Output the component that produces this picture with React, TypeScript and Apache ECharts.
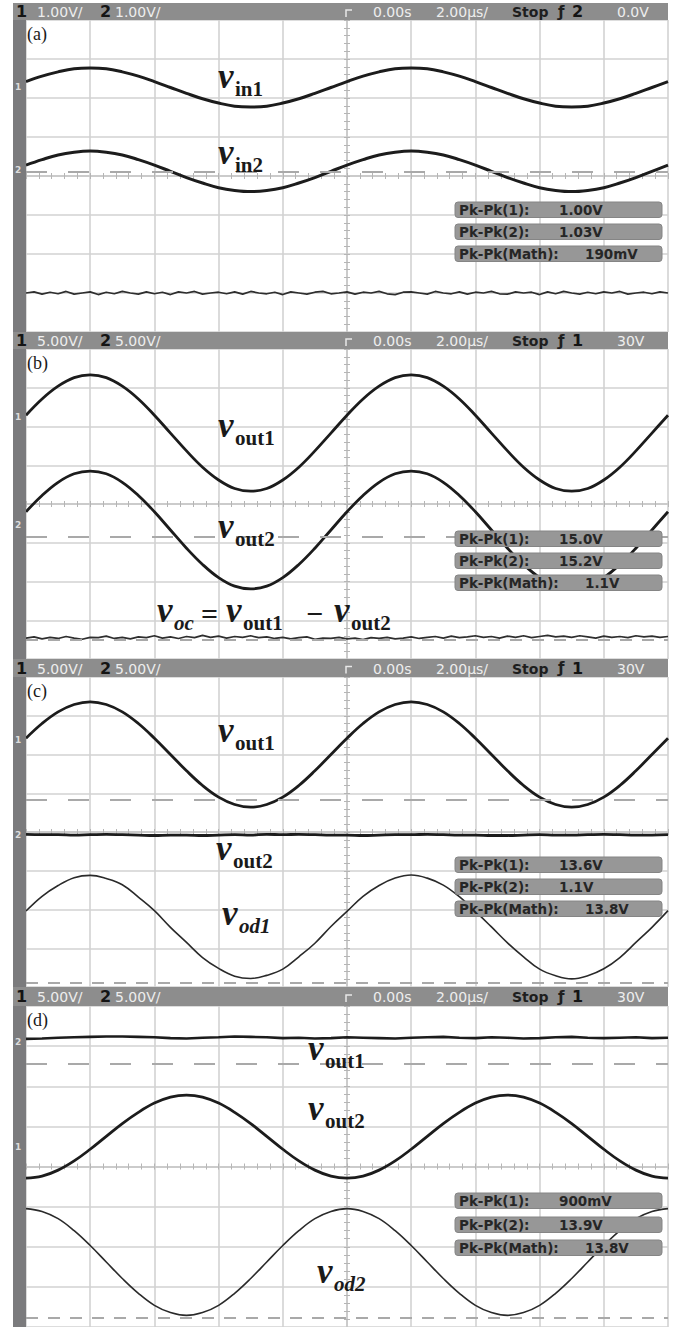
import React, { useEffect, useRef } from "react";
import * as echarts from "echarts";

// Samples are read every 0.25 division (noise traces every 0.125 division), 10 divisions across.
const STEP = 0.25;
const NSTEP = 0.125;

// ---- panel (a): values in divisions from the screen centre ----
const vin1 = [2.42, 2.56, 2.67, 2.75, 2.77, 2.75, 2.67, 2.56, 2.42, 2.27, 2.12, 1.98, 1.87, 1.79, 1.77, 1.79, 1.87, 1.98, 2.12, 2.27, 2.42, 2.56, 2.67, 2.75, 2.77, 2.75, 2.67, 2.56, 2.42, 2.27, 2.12, 1.98, 1.87, 1.79, 1.77, 1.79, 1.87, 1.98, 2.12, 2.27, 2.42];
const vin2 = [0.28, 0.42, 0.54, 0.61, 0.64, 0.61, 0.54, 0.42, 0.28, 0.12, -0.04, -0.18, -0.3, -0.37, -0.4, -0.37, -0.3, -0.18, -0.04, 0.12, 0.28, 0.42, 0.54, 0.61, 0.64, 0.61, 0.54, 0.42, 0.28, 0.12, -0.04, -0.18, -0.3, -0.37, -0.4, -0.37, -0.3, -0.18, -0.04, 0.12, 0.28];
const mathA = [-3.0, -2.97, -3.03, -2.98, -3.02, -2.96, -3.03, -3.0, -2.97, -3.04, -2.98, -3.02, -2.96, -3.0, -3.03, -2.97, -3.02, -2.98, -3.04, -2.97, -3.0, -2.96, -3.03, -3.0, -2.98, -3.02, -2.97, -3.03, -2.96, -3.0, -3.02, -2.98, -3.04, -2.97, -3.0, -3.03, -2.98, -2.96, -3.02, -3.0, -2.97, -3.03, -2.98, -3.0, -2.96, -3.02, -3.04, -2.98, -2.97, -3.0, -3.03, -2.96, -3.0, -3.02, -2.97, -3.03, -2.98, -3.0, -2.96, -3.02, -3.03, -2.97, -3.0, -2.98, -3.04, -2.97, -3.02, -2.96, -3.0, -3.03, -2.98, -3.02, -2.97, -3.0, -2.96, -3.03, -3.0, -2.98, -3.02, -2.97, -3.0];
const refA = [0.12];

// ---- panel (b) ----
const vout1B = [2.29, 2.71, 3.04, 3.26, 3.33, 3.26, 3.04, 2.71, 2.29, 1.83, 1.37, 0.95, 0.62, 0.4, 0.33, 0.4, 0.62, 0.95, 1.37, 1.83, 2.29, 2.71, 3.04, 3.26, 3.33, 3.26, 3.04, 2.71, 2.29, 1.83, 1.37, 0.95, 0.62, 0.4, 0.33, 0.4, 0.62, 0.95, 1.37, 1.83, 2.29];
const vout2B = [-0.2, 0.22, 0.56, 0.78, 0.85, 0.78, 0.56, 0.22, -0.2, -0.67, -1.14, -1.56, -1.9, -2.12, -2.19, -2.12, -1.9, -1.56, -1.14, -0.67, -0.2, 0.22, 0.56, 0.78, 0.85, 0.78, 0.56, 0.22, -0.2, -0.67, -1.14, -1.56, -1.9, -2.12, -2.19, -2.12, -1.9, -1.56, -1.14, -0.67, -0.2];
const mathB = [-3.46, -3.43, -3.48, -3.44, -3.47, -3.42, -3.46, -3.49, -3.44, -3.45, -3.41, -3.47, -3.44, -3.48, -3.43, -3.45, -3.4, -3.46, -3.43, -3.47, -3.42, -3.45, -3.39, -3.44, -3.41, -3.46, -3.42, -3.44, -3.4, -3.45, -3.43, -3.47, -3.44, -3.48, -3.45, -3.43, -3.49, -3.46, -3.47, -3.44, -3.48, -3.46, -3.5, -3.45, -3.47, -3.44, -3.48, -3.46, -3.43, -3.47, -3.44, -3.42, -3.46, -3.41, -3.45, -3.43, -3.4, -3.44, -3.42, -3.46, -3.41, -3.44, -3.4, -3.45, -3.42, -3.39, -3.43, -3.41, -3.44, -3.4, -3.43, -3.46, -3.41, -3.44, -3.42, -3.45, -3.4, -3.43, -3.41, -3.44, -3.42];
const refB = [-0.85, -3.51];

// ---- panel (c) ----
const vout1C = [2.42, 2.8, 3.1, 3.29, 3.36, 3.29, 3.1, 2.8, 2.42, 2.0, 1.58, 1.2, 0.9, 0.71, 0.64, 0.71, 0.9, 1.2, 1.58, 2.0, 2.42, 2.8, 3.1, 3.29, 3.36, 3.29, 3.1, 2.8, 2.42, 2.0, 1.58, 1.2, 0.9, 0.71, 0.64, 0.71, 0.9, 1.2, 1.58, 2.0, 2.42];
const vout2C = [-0.06, -0.07, -0.07, -0.08, -0.07, -0.06, -0.07, -0.08, -0.09, -0.08, -0.08, -0.09, -0.08, -0.07, -0.08, -0.06, -0.07, -0.06, -0.07, -0.08, -0.08, -0.09, -0.08, -0.07, -0.07, -0.06, -0.07, -0.08, -0.08, -0.09, -0.09, -0.08, -0.07, -0.08, -0.08, -0.07, -0.06, -0.07, -0.08, -0.08, -0.07];
const vod1C = [-2.04, -1.66, -1.38, -1.18, -1.12, -1.2, -1.36, -1.68, -2.03, -2.46, -2.85, -3.24, -3.52, -3.72, -3.78, -3.7, -3.54, -3.22, -2.87, -2.44, -2.05, -1.66, -1.38, -1.19, -1.11, -1.19, -1.37, -1.67, -2.05, -2.45, -2.86, -3.22, -3.54, -3.71, -3.79, -3.71, -3.53, -3.24, -2.85, -2.46, -2.03];
const refC = [0.83, -3.9];

// ---- panel (d) ----
const vout1D = [3.18, 3.19, 3.21, 3.22, 3.23, 3.24, 3.24, 3.23, 3.22, 3.2, 3.19, 3.21, 3.22, 3.24, 3.23, 3.22, 3.2, 3.21, 3.19, 3.2, 3.22, 3.21, 3.2, 3.19, 3.21, 3.22, 3.23, 3.21, 3.2, 3.22, 3.21, 3.19, 3.2, 3.22, 3.23, 3.21, 3.2, 3.21, 3.22, 3.2, 3.21];
const vout2D = [-0.29, -0.24, -0.09, 0.14, 0.43, 0.75, 1.07, 1.35, 1.58, 1.73, 1.78, 1.73, 1.58, 1.35, 1.07, 0.75, 0.43, 0.14, -0.09, -0.24, -0.29, -0.24, -0.09, 0.14, 0.43, 0.75, 1.07, 1.35, 1.58, 1.73, 1.78, 1.73, 1.58, 1.35, 1.07, 0.75, 0.43, 0.14, -0.09, -0.24, -0.29];
const vod2D = [-1.05, -1.12, -1.3, -1.6, -1.97, -2.38, -2.79, -3.16, -3.46, -3.64, -3.71, -3.64, -3.46, -3.16, -2.79, -2.38, -1.97, -1.6, -1.3, -1.12, -1.05, -1.12, -1.3, -1.6, -1.97, -2.38, -2.79, -3.16, -3.46, -3.64, -3.71, -3.64, -3.46, -3.16, -2.79, -2.38, -1.97, -1.6, -1.3, -1.12, -1.05];
const refD = [2.56, -3.78];

// ---- texts ----
const TAGS = ["(a)", "(b)", "(c)", "(d)"];
const VDIV = ["1.00V/", "5.00V/", "5.00V/", "5.00V/"];
const TRIG_SRC = ["2", "1", "1", "1"];
const TRIG_LVL = ["0.0V", "30V", "30V", "30V"];
const TIME_POS = "0.00s";
const TIME_DIV = "2.00µs/";
const PK_LABELS = ["Pk-Pk(1):", "Pk-Pk(2):", "Pk-Pk(Math):"];
const PK_A = ["1.00V", "1.03V", "190mV"];
const PK_B = ["15.0V", "15.2V", "1.1V"];
const PK_C = ["13.6V", "1.1V", "13.8V"];
const PK_D = ["900mV", "13.9V", "13.8V"];

// ---- layout (pixels) ----
const PANELS = [
  { hdr: 3, hdrH: 17, top: 20, h: 312, boxes: [202, 224, 246], pk: PK_A },
  { hdr: 332, hdrH: 17, top: 349, h: 310, boxes: [531, 553, 575], pk: PK_B },
  { hdr: 659, hdrH: 18, top: 677, h: 310, boxes: [857, 879, 901], pk: PK_C },
  { hdr: 987, hdrH: 19, top: 1006, h: 328, boxes: [1193, 1217, 1240], pk: PK_D },
];
const LEFT = 26;
const RIGHT = 668;

const SERIF = '"Liberation Serif", "Times New Roman", serif';
const SANS = '"DejaVu Sans", "Liberation Sans", sans-serif';

const pts = (vals: number[], step: number) => vals.map((v, i) => [-5 + i * step, v]);

function txt(x: number, base: number, text: string, size: number, o: any = {}) {
  return {
    type: "text",
    z: 120,
    x,
    y: base - 0.34 * size,
    silent: true,
    style: {
      text,
      fontSize: size,
      fontFamily: o.family ?? SERIF,
      fontWeight: o.weight ?? "bold",
      fontStyle: o.italic ? "italic" : "normal",
      fill: o.fill ?? "#1a1a1a",
      align: o.align ?? "left",
      verticalAlign: "middle",
    },
  };
}

function sym(x: number, base: number, sub: string, subItalic = false) {
  return [txt(x, base, "v", 35, { italic: true }), txt(x + 17, base + 8, sub, 21, { italic: subItalic })];
}

function buildGraphics() {
  const g: any[] = [];
  g.push({ type: "rect", z: 100, silent: true, shape: { x: 13, y: 3, width: 13, height: 1330 }, style: { fill: "#7b7b7d" } });
  PANELS.forEach((p, i) => {
    const cy = p.hdr + p.hdrH / 2 + 0.5;
    g.push({ type: "rect", z: 100, silent: true, shape: { x: 13, y: p.hdr, width: RIGHT - 13, height: p.hdrH }, style: { fill: "#8d8d8d" } });
    const hb = cy + 5;
    g.push(txt(16, hb, "1", 16, { family: SANS, fill: "#141414" }));
    g.push(txt(37, hb, VDIV[i], 14, { family: SANS, weight: "normal", fill: "#eeeeee" }));
    g.push(txt(100, hb, "2", 16, { family: SANS, fill: "#141414" }));
    g.push(txt(115, hb, VDIV[i], 14, { family: SANS, weight: "normal", fill: "#eeeeee" }));
    g.push({ type: "polyline", z: 110, silent: true, shape: { points: [[346, cy + 5], [346, cy - 2], [352, cy - 2]] }, style: { stroke: "#e8e8e8", lineWidth: 1.5, fill: null } });
    g.push(txt(373, hb, TIME_POS, 14, { family: SANS, weight: "normal", fill: "#eeeeee" }));
    g.push(txt(436, hb, TIME_DIV, 14, { family: SANS, weight: "normal", fill: "#eeeeee" }));
    g.push(txt(512, hb, "Stop", 14, { family: SANS, fill: "#1e1e1e" }));
    g.push(txt(558, hb, "ƒ", 15, { family: SANS, fill: "#1e1e1e" }));
    g.push(txt(572, hb, TRIG_SRC[i], 16, { family: SANS, fill: "#141414" }));
    g.push(txt(617, hb, TRIG_LVL[i], 14, { family: SANS, weight: "normal", fill: "#eeeeee" }));
    // panel tag
    g.push(txt(27, p.top + 20, TAGS[i], 18, { weight: "normal", fill: "#1a1a1a" }));
    // measurement boxes
    p.boxes.forEach((by, k) => {
      g.push({ type: "rect", z: 100, silent: true, shape: { x: 455, y: by, width: 207, height: 15.5, r: 3 }, style: { fill: "#979797", stroke: "#858585", lineWidth: 1 } });
      g.push(txt(459, by + 12.5, PK_LABELS[k], 13.5, { family: SANS, weight: "bold", fill: "#262626" }));
      g.push(txt(k < 2 ? 559 : 585, by + 12.5, p.pk[k], 13.5, { family: SANS, weight: "bold", fill: "#262626" }));
    });
  });
  // channel ground markers on the left bar
  const marks: [number, string][] = [[87, "1"], [170, "2"], [417, "1"], [525, "2"], [740, "1"], [835, "2"], [1042, "2"], [1147, "1"]];
  marks.forEach(([y, t]) => g.push(txt(15, y + 3, t, 9, { family: SANS, fill: "#dcdcdc" })));
  // trace names
  g.push(...sym(218, 88, "in1"));
  g.push(...sym(218, 164, "in2"));
  g.push(...sym(218, 437, "out1"));
  g.push(...sym(218, 538, "out2"));
  g.push(txt(157, 622, "v", 35, { italic: true }));
  g.push(txt(174, 630, "oc", 21, { italic: true }));
  g.push(txt(201, 624, "=", 30, {}));
  g.push(...sym(226, 622, "out1"));
  g.push(txt(306, 624, "−", 30, {}));
  g.push(...sym(334, 622, "out2"));
  g.push(...sym(218, 742, "out1"));
  g.push(...sym(216, 860, "out2"));
  g.push(...sym(222, 925, "od1", true));
  g.push(...sym(308, 1060, "out1"));
  g.push(...sym(308, 1120, "out2"));
  g.push(...sym(317, 1283, "od2", true));
  return g;
}

function buildOption() {
  const tick = { color: "#b5b5b5", width: 1 };
  const xAxis = PANELS.flatMap((_, gi) => [
    {
      gridIndex: gi, type: "value", min: -5, max: 5, interval: 1, position: "bottom",
      axisLine: { show: true, onZero: true, lineStyle: { color: "#cacaca", width: 1.5 } },
      axisTick: { show: true, length: 3, lineStyle: tick },
      minorTick: { show: true, splitNumber: 5, length: 3, lineStyle: tick },
      axisLabel: { show: false },
      splitLine: { show: true, lineStyle: { color: "#d2d2d2", width: 1.6 } },
    },
    {
      gridIndex: gi, type: "value", min: -5, max: 5, interval: 1, position: "top",
      axisLine: { show: true, onZero: true, lineStyle: { color: "#cacaca", width: 1.5 } },
      axisTick: { show: true, length: 3, lineStyle: tick },
      minorTick: { show: true, splitNumber: 5, length: 3, lineStyle: tick },
      axisLabel: { show: false },
      splitLine: { show: false },
    },
  ]);
  const yAxis = PANELS.flatMap((_, gi) => [
    {
      gridIndex: gi, type: "value", min: -4, max: 4, interval: 1, position: "left",
      axisLine: { show: true, onZero: true, lineStyle: { color: "#cacaca", width: 1.5 } },
      axisTick: { show: true, length: 3, lineStyle: tick },
      minorTick: { show: true, splitNumber: 5, length: 3, lineStyle: tick },
      axisLabel: { show: false },
      splitLine: { show: true, lineStyle: { color: "#d2d2d2", width: 1.6 } },
    },
    {
      gridIndex: gi, type: "value", min: -4, max: 4, interval: 1, position: "right",
      axisLine: { show: true, onZero: true, lineStyle: { color: "#cacaca", width: 1.5 } },
      axisTick: { show: true, length: 3, lineStyle: tick },
      minorTick: { show: true, splitNumber: 5, length: 3, lineStyle: tick },
      axisLabel: { show: false },
      splitLine: { show: false },
    },
  ]);
  const grid = PANELS.map((p) => ({ left: LEFT, top: p.top, width: RIGHT - LEFT, height: p.h }));

  const LONG = [21, 21];
  const SHORT = [12, 10];
  const refSeries = (gi: number, lines: { v: number; dash: number[] }[]) => ({
    type: "line", xAxisIndex: gi * 2, yAxisIndex: gi * 2, data: [], silent: true,
    markLine: {
      silent: true, symbol: ["none", "none"], label: { show: false }, animation: false,
      data: lines.map((l) => ({ yAxis: l.v, lineStyle: { type: l.dash, color: "#a9a9a9", width: 2 } })),
    },
  });
  const trace = (gi: number, vals: number[], step: number, width: number, color = "#1c1c1c", smooth: number | boolean = 0.4) => ({
    type: "line", xAxisIndex: gi * 2, yAxisIndex: gi * 2, data: pts(vals, step), showSymbol: false, smooth, silent: true,
    lineStyle: { color, width }, clip: true,
  });

  const series = [
    refSeries(0, [{ v: refA[0], dash: LONG }]),
    refSeries(1, [{ v: refB[0], dash: LONG }, { v: refB[1], dash: SHORT }]),
    refSeries(2, [{ v: refC[0], dash: LONG }, { v: refC[1], dash: SHORT }]),
    refSeries(3, [{ v: refD[0], dash: LONG }, { v: refD[1], dash: SHORT }]),
    trace(0, vin1, STEP, 3),
    trace(0, vin2, STEP, 3),
    trace(0, mathA, NSTEP, 1.7, "#2e2e2e", false),
    trace(1, vout1B, STEP, 2.8),
    trace(1, vout2B, STEP, 2.8),
    trace(1, mathB, NSTEP, 1.7, "#2e2e2e", false),
    trace(2, vout1C, STEP, 2.8),
    trace(2, vout2C, STEP, 2.8),
    trace(2, vod1C, STEP, 1.6, "#2a2a2a"),
    trace(3, vout1D, STEP, 2.6, "#1c1c1c", false),
    trace(3, vout2D, STEP, 2.8),
    trace(3, vod2D, STEP, 1.6, "#2a2a2a"),
  ];

  return {
    animation: false,
    backgroundColor: "#ffffff",
    grid,
    xAxis,
    yAxis,
    series,
    graphic: { elements: buildGraphics() },
  };
}

export default function App() {
  const ref = useRef<HTMLDivElement>(null);
  useEffect(() => {
    document.body.style.margin = "0";
    const chart = echarts.init(ref.current!, null, { renderer: "svg" });
    chart.setOption(buildOption() as any);
    return () => chart.dispose();
  }, []);
  return <div ref={ref} style={{ width: 673, height: 1327, background: "#fff" }} />;
}
